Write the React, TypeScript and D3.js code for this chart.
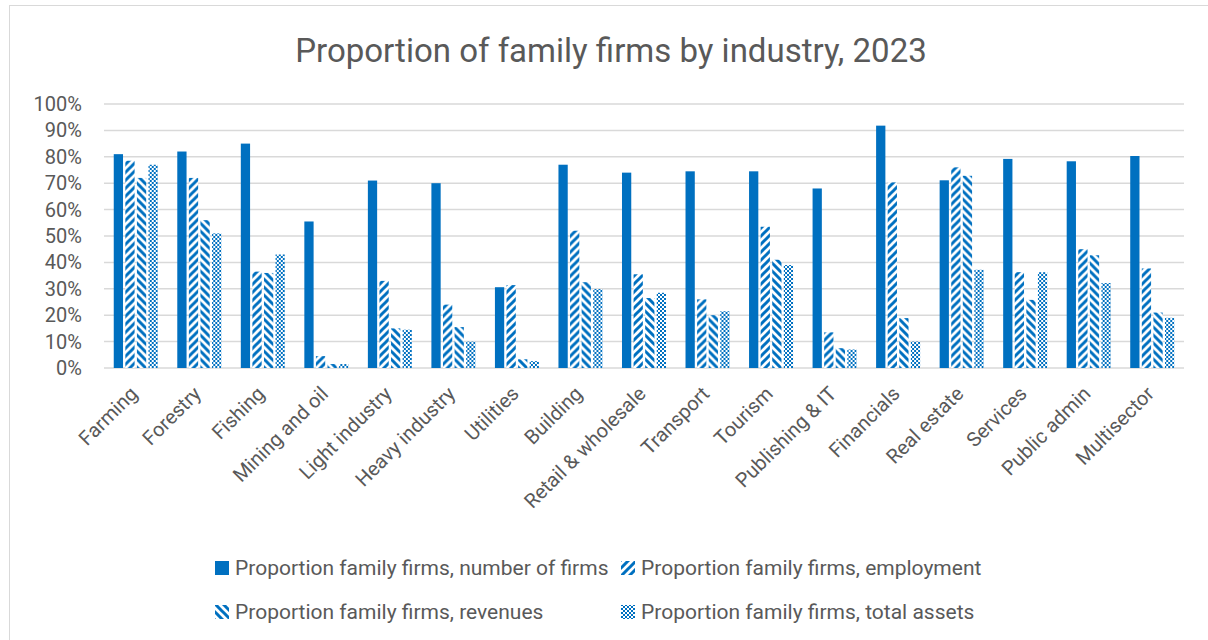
import React from "react";
import * as d3 from "d3";

const categories = [
  "Farming", "Forestry", "Fishing", "Mining and oil", "Light industry",
  "Heavy industry", "Utilities", "Building", "Retail & wholesale", "Transport",
  "Tourism", "Publishing & IT", "Financials", "Real estate", "Services",
  "Public admin", "Multisector",
];

const seriesNames = [
  "Proportion family firms, number of firms",
  "Proportion family firms, employment",
  "Proportion family firms, revenues",
  "Proportion family firms, total assets",
];

const numberOfFirms = [81, 82, 85, 55.5, 71, 70, 30.6, 77, 74, 74.5, 74.5, 68, 91.8, 71.1, 79.2, 78.3, 80.3];
const employment = [78.5, 72, 36.5, 4.5, 33, 24, 31.4, 52, 35.5, 26, 53.5, 13.5, 70.3, 76, 36.3, 45, 37.7];
const revenues = [72, 56, 36, 1.5, 15, 15.5, 3.3, 32.5, 26.5, 20, 41, 7.5, 18.9, 72.8, 25.8, 42.7, 21];
const totalAssets = [77, 51, 43, 1.5, 14.5, 10, 2.6, 29.9, 28.5, 21.5, 39, 7, 10, 37.2, 36.3, 32.2, 19];

const yTicks = [0, 10, 20, 30, 40, 50, 60, 70, 80, 90, 100];

const BLUE = "#0070C0";
const FONT = "Roboto, 'Open Sans', sans-serif";

export default function App() {
  const width = 1208;
  const height = 640;
  const left = 104;
  const right = 1184;
  const top = 104;
  const bottom = 368;

  const series = [numberOfFirms, employment, revenues, totalAssets];
  const fills = [BLUE, "url(#upDiag)", "url(#downDiag)", "url(#checker)"];

  const x0 = d3.scaleBand<string>().domain(categories).range([left, right])
    .paddingInner(0.307).paddingOuter(0.1535);
  const x1 = d3.scaleBand<number>().domain(d3.range(series.length))
    .range([0, x0.bandwidth()]).paddingInner(0.2);
  const y = d3.scaleLinear().domain([0, 100]).range([bottom, top]);

  const legendPos = [
    [215, 568], [621, 568], [215, 612], [621, 612],
  ];

  return (
    <svg width={width} height={height}
      style={{ position: "absolute", left: 0, top: 0, background: "#fff" }}
      fontFamily={FONT}>
      <defs>
        <pattern id="upDiag" width="8" height="8" patternUnits="userSpaceOnUse">
          <rect width="8" height="8" fill="#fff" />
          <path d="M-2,2 L2,-2 M0,8 L8,0 M6,10 L10,6" stroke={BLUE} strokeWidth="3" />
        </pattern>
        <pattern id="downDiag" width="8" height="8" patternUnits="userSpaceOnUse">
          <rect width="8" height="8" fill="#fff" />
          <path d="M-2,6 L2,10 M0,0 L8,8 M6,-2 L10,2" stroke={BLUE} strokeWidth="3" />
        </pattern>
        <pattern id="checker" width="4" height="4" patternUnits="userSpaceOnUse">
          <rect width="4" height="4" fill="#fff" />
          <rect x="0" y="0" width="2" height="2" fill={BLUE} />
          <rect x="2" y="2" width="2" height="2" fill={BLUE} />
        </pattern>
      </defs>

      <rect x={9.5} y={5.5} width={1400} height={800} fill="#fff" stroke="#d9d9d9" />

      <text x={611} y={62} textAnchor="middle" fontSize={33} fill="#595959">
        Proportion of family firms by industry, 2023
      </text>

      {yTicks.map((t) => (
        <g key={t}>
          <line x1={left} x2={right} y1={y(t)} y2={y(t)} stroke="#d9d9d9" strokeWidth={1.5} />
          <text x={82} y={y(t)} dy="0.35em" textAnchor="end" fontSize={20} fill="#595959">
            {t}%
          </text>
        </g>
      ))}

      {categories.map((c, i) => (
        <g key={c} transform={`translate(${x0(c)},0)`}>
          {series.map((s, k) => (
            <rect key={k} x={x1(k)} y={y(s[i])} width={x1.bandwidth()}
              height={bottom - y(s[i])} fill={fills[k]} />
          ))}
        </g>
      ))}

      {categories.map((c) => {
        const cx = (x0(c) as number) + x0.bandwidth() / 2 + 3;
        return (
          <text key={c} transform={`translate(${cx},${395}) rotate(-45)`}
            textAnchor="end" fontSize={20} fill="#595959">
            {c}
          </text>
        );
      })}

      {seriesNames.map((n, k) => (
        <g key={n} transform={`translate(${legendPos[k][0]},${legendPos[k][1]})`}>
          <rect x={0} y={-7} width={14} height={14} fill={fills[k]} />
          <text x={20} y={0} dy="0.35em" fontSize={21} fill="#595959">{n}</text>
        </g>
      ))}
    </svg>
  );
}
